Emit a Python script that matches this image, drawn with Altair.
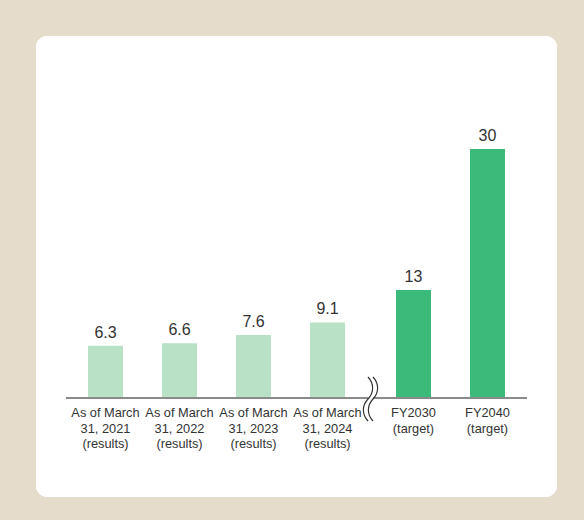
import altair as alt
import pandas as pd

categories = [
    "As of March\n31, 2021\n(results)",
    "As of March\n31, 2022\n(results)",
    "As of March\n31, 2023\n(results)",
    "As of March\n31, 2024\n(results)",
    "FY2030\n(target)",
    "FY2040\n(target)",
]
values = [6.3, 6.6, 7.6, 9.1, 13, 30]
kinds = ["results", "results", "results", "results", "target", "target"]

df = pd.DataFrame({
    "category": categories,
    "value": values,
    "kind": kinds,
    "idx": list(range(len(categories))),
})

BG = "#e6dccb"
LIGHT = "#b8e1c6"
DARK = "#3bba79"
TEXT = "#333333"
AXIS = "#8a8a8a"

base = alt.Chart(df).transform_calculate(
    pos="datum.idx + (datum.idx >= 4 ? 0.162 : 0)"
)

xs = alt.Scale(domain=[0, 5], range=[105.5, 475.5], zero=False, nice=False, padding=0)
ys = alt.Scale(domain=[0, 40], range=[398, 66], nice=False, zero=True, padding=0)

X = alt.X("pos:Q", scale=xs, axis=None)

panel = alt.Chart(df).mark_rect(color="white", cornerRadius=12).encode(
    x=alt.value(36), x2=alt.value(557), y=alt.value(36), y2=alt.value(497)
)

bars = base.mark_bar(orient="vertical", width=35).encode(
    x=X,
    y=alt.Y("value:Q", scale=ys, axis=None),
    y2=alt.datum(0),
    color=alt.Color("kind:N", scale=alt.Scale(domain=["results", "target"], range=[LIGHT, DARK]), legend=None),
)

value_labels = base.mark_text(
    baseline="bottom", dy=-5, fontSize=16, font="Liberation Sans", color=TEXT
).encode(
    x=X,
    y=alt.Y("value:Q", scale=ys, axis=None),
    text=alt.Text("value:Q"),
)

cat_labels = base.mark_text(
    baseline="top", align="center", lineBreak="\n", fontSize=12.8, lineHeight=15.5,
    font="Liberation Sans", color=TEXT
).encode(
    x=X,
    y=alt.value(407),
    text="category:N",
)

axis_line = alt.Chart(df).mark_rule(color=AXIS, strokeWidth=1.6).encode(
    x=alt.value(66), x2=alt.value(527), y=alt.value(398)
)

gap = alt.Chart(df).mark_rect(color="white").encode(
    x=alt.value(368.5), x2=alt.value(373), y=alt.value(395), y2=alt.value(402)
)

wave_path = "M 0 -1 C 0.28 -0.7 0.28 -0.3 0 0 C -0.28 0.3 -0.28 0.7 0 1"


def wave(xpix):
    return alt.Chart(df).transform_filter("datum.idx == 0").mark_point(
        shape=wave_path, size=1936, filled=False, stroke="#333333", strokeWidth=1.2, opacity=1
    ).encode(x=alt.value(xpix), y=alt.value(399))


chart = alt.layer(panel, bars, axis_line, gap, wave(368), wave(373), value_labels, cat_labels).properties(
    width=584, height=520,
    autosize=alt.AutoSizeParams(type="none"),
    padding=0,
    background=BG,
).configure_view(stroke=None)

chart.save("out.html", embed_options={"renderer": "svg", "actions": False})
